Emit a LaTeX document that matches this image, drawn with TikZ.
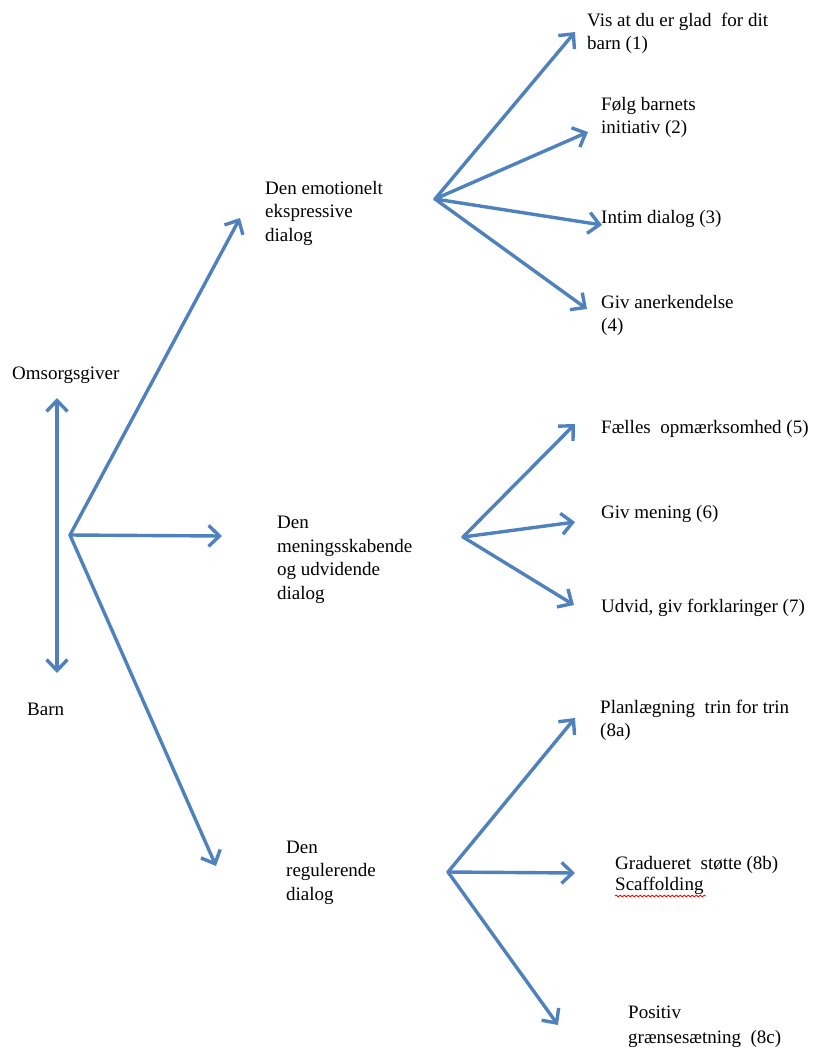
\documentclass[tikz,border=0pt]{standalone}
\usepackage{fontspec}
\setmainfont{Liberation Serif}
\usetikzlibrary{arrows.meta,decorations.pathmorphing}
\definecolor{arrowblue}{RGB}{79,129,189}
\tikzset{
  conn/.style={draw=arrowblue, line width=3.4bp, line cap=round, line join=round,
    -{Straight Barb[length=11bp,width=21bp,line width=3.4bp]}},
  dbl/.style={draw=arrowblue, line width=3.4bp,
    {Straight Barb[length=11bp,width=21bp,line width=3.4bp]}-{Straight Barb[length=11bp,width=21bp,line width=3.4bp]}},
  lbl/.style={anchor=base west, inner sep=0pt, align=left,
    font=\fontsize{19bp}{23.5bp}\selectfont}
}
\begin{document}
\begin{tikzpicture}[x=1bp,y=-1bp]
\path[use as bounding box] (0,0) rectangle (816,1048);

% text nodes (anchor = baseline of the last line)
\node[lbl] (oms) at (12,379) {Omsorgsgiver};
\node[lbl] (barn) at (27,715) {Barn};
\node[lbl] (d1) at (265,241) {Den emotionelt\\ekspressive\\dialog};
\node[lbl] (d2) at (277,599) {Den\\meningsskabende\\og udvidende\\dialog};
\node[lbl] (d3) at (286,900) {Den\\regulerende\\dialog};
\node[lbl] (t1) at (587,49.5) {Vis at du er glad\ \ for dit\\barn (1)};
\node[lbl] (t2) at (601,133.5) {Følg barnets\\initiativ (2)};
\node[lbl] (t3) at (601,223) {Intim dialog (3)};
\node[lbl] (t4) at (601,331.5) {Giv anerkendelse\\(4)};
\node[lbl] (t5) at (601,433) {Fælles\ \ opmærksomhed (5)};
\node[lbl] (t6) at (601,518) {Giv mening (6)};
\node[lbl] (t7) at (601,612) {Udvid, giv forklaringer (7)};
\node[lbl] (t8a) at (600,736.5) {Planlægning\ \ trin for trin\\(8a)};
\node[lbl, font=\fontsize{19bp}{21bp}\selectfont] (t8b) at (615,890) {Gradueret\ \ støtte (8b)\\Scaffolding};
\node[lbl, font=\fontsize{19bp}{25bp}\selectfont] (t8c) at (628,1043) {Positiv\\grænsesætning\ \ (8c)};

% red spell-check squiggle under "Scaffolding"
\draw[red, line width=0.8bp, decorate,
  decoration={snake, amplitude=0.9bp, segment length=4bp}] (615,896) -- (706,896);

% hub and tip coordinates
\coordinate (vtop) at (57,398);
\coordinate (vbot) at (57,673);
\coordinate (h0) at (70,535);
\coordinate (a1) at (240,218);
\coordinate (a2) at (222,536);
\coordinate (a3) at (216,866);
\coordinate (h1) at (435,199);
\coordinate (b1) at (575,32);
\coordinate (b2) at (588,132);
\coordinate (b3) at (602,225);
\coordinate (b4) at (587,309);
\coordinate (h2) at (463,537);
\coordinate (c1) at (575,424);
\coordinate (c2) at (575,522);
\coordinate (c3) at (574,605);
\coordinate (h3) at (448,872);
\coordinate (e1) at (575,718);
\coordinate (e2) at (575,873);
\coordinate (e3) at (558,1025);

% connectors
\draw[dbl] (vtop) -- (vbot);
\draw[conn] (h0) -- (a1);
\draw[conn] (h0) -- (a2);
\draw[conn] (h0) -- (a3);
\draw[conn] (h1) -- (b1);
\draw[conn] (h1) -- (b2);
\draw[conn] (h1) -- (b3);
\draw[conn] (h1) -- (b4);
\draw[conn] (h2) -- (c1);
\draw[conn] (h2) -- (c2);
\draw[conn] (h2) -- (c3);
\draw[conn] (h3) -- (e1);
\draw[conn] (h3) -- (e2);
\draw[conn] (h3) -- (e3);
\end{tikzpicture}
\end{document}
